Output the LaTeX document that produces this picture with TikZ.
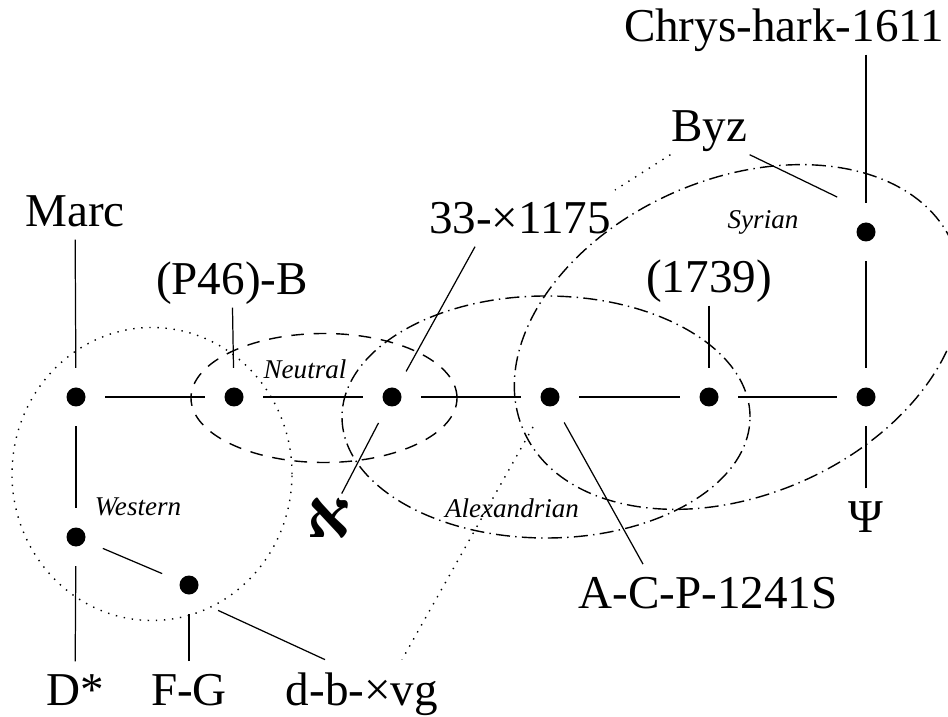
\documentclass[tikz,border=0pt]{standalone}
\usepackage{fontspec}
\setmainfont{Liberation Serif}
\newfontfamily\hebfont[Script=Hebrew]{Liberation Serif}
\usepackage{tikz}

\begin{document}
\begin{tikzpicture}[
    dot/.style={circle, fill, inner sep=0pt, minimum size=0.19cm},
    lbl/.style={inner sep=0.12cm, text depth=0pt, font=\fontsize{13.4}{16}\selectfont},
    grp/.style={inner sep=0pt, font=\fontsize{7.7}{9}\selectfont\itshape},
    tie/.style={line width=0.35pt, shorten <=0.19cm, shorten >=0.19cm},
    tick/.style={line width=0.35pt, shorten >=0.19cm},
    dotline/.style={line width=0.4pt, dash pattern=on 0.4pt off 1.9pt},
    neut/.style={line width=0.4pt, dash pattern=on 3.6pt off 2.8pt},
    dashdot/.style={line width=0.4pt, dash pattern=on 4pt off 1.5pt on 0.4pt off 1.5pt}
  ]
      \useasboundingbox (0, 0) rectangle (9.48, -7.17);
      \draw[dotline] (1.52, -4.74) ellipse [x radius=1.40, y radius=1.465];
      \draw[neut] (3.24, -3.98) ellipse [x radius=1.33, y radius=0.645];
      \draw[dashdot] (5.46, -4.17) ellipse [x radius=2.04, y radius=1.21];
      \draw[dashdot, rotate around={23.5:(7.38, -3.37)}] (7.38, -3.37) ellipse [x radius=2.34, y radius=1.58];
      \node[grp] (gNe) at (3.05, -3.69) {Neutral};
      \node[grp] (gWe) at (1.38, -5.07) {Western};
      \node[grp] (gAx) at (5.12, -5.08) {Alexandrian};
      \node[grp] (gSy) at (7.63, -2.22) {Syrian};
      \node[dot] (Mc) at (0.76, -3.97) {};
      \node[dot] (Bv) at (2.34, -3.97) {};
      \node[dot] (Al) at (3.92, -3.97) {};
      \node[dot] (Ac) at (5.50, -3.97) {};
      \node[dot] (Mn) at (7.09, -3.97) {};
      \node[dot] (Ps) at (8.66, -3.97) {};
      \node[dot] (Sy) at (8.66, -2.32) {};
      \node[dot] (Dw) at (0.76, -5.37) {};
      \node[dot] (Fg) at (1.89, -5.85) {};
      \node[lbl, anchor=base] (tSy) at (7.84, -0.42) {Chrys-hark-1611};
      \node[lbl, anchor=base] (tByz) at (7.09, -1.42) {Byz};
      \node[lbl, anchor=base] (tMc) at (0.75, -2.27) {Marc};
      \node[lbl, anchor=base] (tAl) at (5.20, -2.34) {33-×1175};
      \node[lbl, anchor=base] (tBv) at (2.32, -2.95) {(P46)-B};
      \node[lbl, anchor=base] (tMn) at (7.09, -2.93) {(1739)};
      \node[lbl, inner sep=0.04cm, font=\fontsize{19}{20}\selectfont] (tAlef) at (3.29, -5.18) {\hebfont\bfseries א};
      \node[lbl, anchor=base] (tPs) at (8.66, -5.32) {Ψ};
      \node[lbl, anchor=base] (tAc) at (7.08, -6.08) {A-C-P-1241S};
      \node[lbl, anchor=base] (tDw) at (0.75, -7.05) {D*};
      \node[lbl, anchor=base] (tFg) at (1.89, -7.05) {F-G};
      \node[lbl, anchor=base] (tDb) at (3.62, -7.05) {d-b-×vg};
      \coordinate (byzend) at (6.15, -1.90);
      \coordinate (mixend) at (5.33, -4.27);
      \draw[tie] (Mc) -- (Bv);
      \draw[tie] (Bv) -- (Al);
      \draw[tie] (Al) -- (Ac);
      \draw[tie] (Ac) -- (Mn);
      \draw[tie] (Mn) -- (Ps);
      \draw[tie] (Mc) -- (Dw);
      \draw[tie] (Dw) -- (Fg);
      \draw[tie] (Sy) -- (Ps);
      \draw[tick] (tMc) -- (Mc);
      \draw[tick] (tBv) -- (Bv);
      \draw[tick] ([xshift=-4.5mm]tAl.south) -- (Al);
      \draw[tick] (tMn) -- (Mn);
      \draw[tick] (tSy.south -| Sy) -- (Sy);
      \draw[tick] (tAlef) -- (Al);
      \draw[tick] ([xshift=-6.5mm]tAc.north) -- (Ac);
      \draw[tick] (tPs) -- (Ps);
      \draw[tick] (tDw) -- (Dw);
      \draw[tick] (tFg) -- (Fg);
      \draw[line width=0.35pt, shorten >=3.2mm] ([xshift=-1mm]tByz.south east) -- ([yshift=2.1mm]Sy.center);
      \draw[line width=0.35pt, shorten <=3.2mm] ([yshift=-1.2mm]Fg.center) -- ([xshift=-3.7mm]tDb.north);
      \draw[dotline] ([xshift=1.2mm]tByz.south west) -- (byzend);
      \draw[dotline] (mixend) -- ([xshift=4mm]tDb.north);
    \end{tikzpicture}
\end{document}
